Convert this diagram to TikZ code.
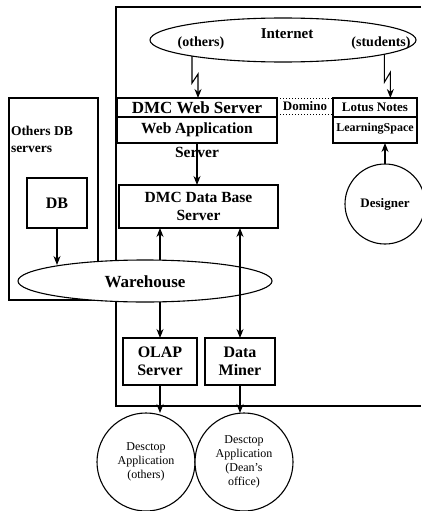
\documentclass[tikz,border=0pt]{standalone}
\usepackage{fontspec}
\setmainfont{Liberation Serif}
\usetikzlibrary{shapes.geometric,arrows.meta}
\begin{document}
\begin{tikzpicture}[x=1pt,y=-1pt,
  every node/.style={inner sep=0pt, outer sep=0pt},
  box/.style={draw, line width=1.1pt, rectangle, font=\bfseries\fontsize{13}{14}\selectfont, align=center},
  lbl/.style={font=\bfseries\fontsize{13}{14}\selectfont, align=center},
  oval/.style={draw, line width=1.1pt, ellipse, fill=white},
  round/.style={draw, line width=1.1pt, circle, fill=white, font=\fontsize{12}{14}\selectfont, align=center},
  arr/.style={line width=1.1pt, -{Stealth[length=9pt,width=7pt]}},
  darr/.style={line width=1.1pt, {Stealth[length=9pt,width=7pt]}-{Stealth[length=9pt,width=7pt]}}]
\useasboundingbox (0,0) rectangle (421,511);
% main frame
\draw[line width=1.3pt] (421,7) -- (116,7) -- (116,406) -- (421,406);
% Internet
\node[oval, minimum width=266, minimum height=44] (internet) at (283,40) {};
\node[lbl, font=\bfseries\fontsize{15}{16}\selectfont] (inettxt) at (287,34) {Internet};
\node[lbl, font=\bfseries\fontsize{14}{15}\selectfont] (others) at (201,43) {(others)};
\node[lbl, font=\bfseries\fontsize{14}{15}\selectfont] (students) at (381,43) {(students)};
% Domino strip
\node[box, minimum width=160, minimum height=19, font=\bfseries\fontsize{17}{18}\selectfont] (webserver) at (197,107.5) {DMC Web Server};
\node[box, minimum width=160, minimum height=26, font=\bfseries\fontsize{15.5}{16}\selectfont, anchor=north] (webapp) at (197,117) {\raisebox{3pt}{Web Application}};
\node[lbl, font=\bfseries\fontsize{15.5}{16}\selectfont] (webappsrv) at (197,152) {Server};
\node[box, minimum width=84, minimum height=19] (lotus) at (375,107.5) {Lotus Notes};
\node[box, minimum width=84, minimum height=26, anchor=north, font=\bfseries\fontsize{12}{13}\selectfont] (lspace) at (375,117) {\raisebox{5pt}{LearningSpace}};
\node[lbl] (domino) at (305,106) {Domino};
\draw[dotted, line width=1pt] (webserver.north east) -- (lotus.north west);
\draw[dotted, line width=1pt] (webserver.east |- 0,114.5) -- (lotus.west |- 0,114.5);
% lightning bolts
\draw[arr] (internet.190.6) -- ++(0,27) -- ++(6,-9) coordinate (k1) -- (k1 |- webserver.north);
\draw[arr] (internet.352.3) -- ++(0,28) -- ++(6,-10) coordinate (k2) -- (k2 |- lotus.north);
% Designer
\node[round, minimum size=80, font=\bfseries\fontsize{13}{14}\selectfont] (designer) at (385,204) {Designer};
\draw[arr] (designer.north) -- (designer.north |- lspace.south);
% DMC Data Base Server
\node[box, minimum width=159, minimum height=43, font=\bfseries\fontsize{15.5}{18}\selectfont] (dmcdb) at (198.5,206.5) {DMC Data Base\\Server};
\draw[arr] (webapp.south) -- (webapp.south |- dmcdb.north);
% Others DB servers
\node[draw, line width=1.1pt, minimum width=89, minimum height=202] (othersbox) at (53.5,199) {};
\node[lbl, align=left, anchor=north west, font=\bfseries\fontsize{13.5}{17}\selectfont] (otherstxt) at (11,126) {Others DB\\servers};
\node[box, minimum width=60, minimum height=50, font=\bfseries\fontsize{16}{17}\selectfont] (db) at (57,203) {DB};
% OLAP / Data Miner
\node[box, minimum width=74, minimum height=47, font=\bfseries\fontsize{16}{18}\selectfont] (olap) at (160,361.5) {OLAP\\Server};
\node[box, minimum width=70, minimum height=47, font=\bfseries\fontsize{16}{18}\selectfont] (miner) at (240,361.5) {Data\\Miner};
% Warehouse
\node[oval, minimum width=254, minimum height=42] (warehouse) at (145,281) {};
\node[lbl, font=\bfseries\fontsize{17}{18}\selectfont] (whtxt) at (145,282) {Warehouse};
\coordinate (dbhit) at (warehouse.169.7);
\draw[arr] (db.south) -- (db.south |- dbhit);
\draw[arr] (olap.north |- warehouse.north) -- (dmcdb.south -| olap.north);
\draw[arr] (olap.north |- warehouse.south) -- (olap.north);
\draw[darr] (dmcdb.south -| miner.north) -- (miner.north);
% Desktop applications
\node[round, minimum size=98] (desk1) at (146,462) {\raisebox{6pt}{\parbox{80pt}{\centering Desctop\\Application\\(others)}}};
\node[round, minimum size=98] (desk2) at (244,462) {Desctop\\Application\\(Dean's\\office)};
\draw[arr] (olap.south) -- (olap.south |- desk1.north);
\draw[arr] (miner.south) -- (miner.south |- desk2.north);
\end{tikzpicture}
\end{document}
